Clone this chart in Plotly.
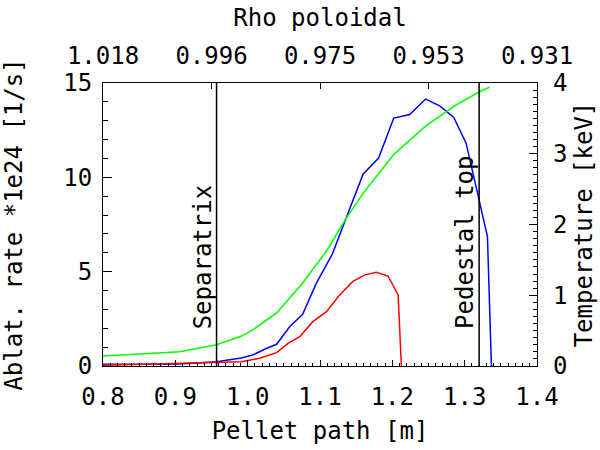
import plotly.graph_objects as go

# ---- data ----
path_blue = [0.800, 0.906, 0.957, 0.991, 1.007, 1.024, 1.040, 1.058, 1.076, 1.095,
             1.117, 1.155, 1.1595, 1.181, 1.202, 1.224, 1.246, 1.2655, 1.285, 1.302,
             1.3315, 1.337]
abl_blue = [0.09, 0.11, 0.23, 0.42, 0.58, 0.90, 1.15, 2.08, 2.74, 4.39,
            5.93, 9.78, 10.17, 11.02, 13.14, 13.33, 14.15, 13.79, 13.17, 11.81,
            6.86, 0.0]

path_red = [0.800, 0.957, 0.991, 1.0166, 1.040, 1.0558, 1.072, 1.090, 1.109, 1.126,
            1.145, 1.162, 1.178, 1.194, 1.208, 1.2125]
abl_red = [0.04, 0.18, 0.23, 0.41, 0.71, 1.20, 1.55, 2.35, 2.88, 3.71,
           4.47, 4.83, 4.97, 4.77, 3.77, 0.0]

path_te = [0.800, 0.906, 0.957, 0.991, 1.007, 1.040, 1.075, 1.110, 1.135, 1.1595,
           1.202, 1.246, 1.285, 1.321, 1.3346]
te_kev = [0.14, 0.20, 0.30, 0.42, 0.51, 0.75, 1.16, 1.64, 2.07, 2.44,
          2.99, 3.39, 3.67, 3.88, 3.94]

separatrix_x = 0.957
pedestal_x = 1.32
label_y = 2.0

x_range = [0.8, 1.4]
rho_tick_pos = [0.8, 0.95, 1.1, 1.25, 1.4]
rho_tick_text = ["1.018", "0.996", "0.975", "0.953", "0.931"]

FONT = dict(family="DejaVu Sans Mono", size=24, color="black")

fig = go.Figure()
fig.add_trace(go.Scatter(x=path_te, y=te_kev, mode="lines", yaxis="y2",
                         line=dict(color="#00ff00", width=1.5), showlegend=False))
fig.add_trace(go.Scatter(x=path_blue, y=abl_blue, mode="lines",
                         line=dict(color="#0000ff", width=1.5), showlegend=False))
fig.add_trace(go.Scatter(x=path_red, y=abl_red, mode="lines",
                         line=dict(color="#ff0000", width=1.5), showlegend=False))
# empty carrier trace so the top (rho) axis is drawn
fig.add_trace(go.Scatter(x=x_range, y=[None, None], xaxis="x2", mode="lines",
                         hoverinfo="skip", showlegend=False))

for xv in (separatrix_x, pedestal_x):
    fig.add_shape(type="line", xref="x", yref="paper", x0=xv, x1=xv, y0=0, y1=1,
                  line=dict(color="black", width=1.5))

for xv, txt in ((separatrix_x, "Separatrix"), (pedestal_x, "Pedestal top")):
    fig.add_annotation(x=xv, y=label_y, xref="x", yref="y", text=txt, textangle=-90,
                       showarrow=False, xanchor="right", yanchor="bottom",
                       yshift=-2, xshift=1, font=FONT, borderpad=0)

axis_common = dict(showline=True, linecolor="black", linewidth=1.2, showgrid=False,
                   zeroline=False, ticks="inside", tickcolor="black", tickwidth=1.2,
                   tickfont=FONT, title_font=FONT, automargin=False)

fig.update_layout(
    width=600, height=450,
    margin=dict(l=103, r=63, t=83, b=84),
    paper_bgcolor="white", plot_bgcolor="white",
    xaxis=dict(range=x_range, tickmode="linear", tick0=0.8, dtick=0.1,
               tickformat=".1f", ticklen=6,
               minor=dict(ticks="inside", ticklen=3, dtick=0.01, tick0=0.8,
                          tickcolor="black", tickwidth=1),
               title=dict(text="Pellet path [m]", standoff=12),
               ticklabelstandoff=9, **axis_common),
    xaxis2=dict(range=x_range, overlaying="x", side="top", anchor="y",
                tickmode="array", tickvals=rho_tick_pos, ticktext=rho_tick_text,
                ticklen=6, title=dict(text="Rho poloidal", standoff=8),
                ticklabelstandoff=8, **axis_common),
    yaxis=dict(range=[0, 15], tickmode="linear", tick0=0, dtick=5, ticklen=9,
               minor=dict(ticks="inside", ticklen=5, dtick=1, tickcolor="black",
                          tickwidth=1),
               title=dict(text="Ablat. rate *1e24 [1/s]", standoff=36),
               ticklabelstandoff=5, **axis_common),
    yaxis2=dict(range=[0, 4], overlaying="y", side="right", anchor="x",
                tickmode="linear", tick0=0, dtick=1, ticklen=8,
                minor=dict(ticks="inside", ticklen=4, dtick=0.1, tickcolor="black",
                           tickwidth=1),
                title=dict(text="Temperature [keV]", standoff=8),
                ticklabelstandoff=10, **axis_common),
)

fig.write_html("out.html")
